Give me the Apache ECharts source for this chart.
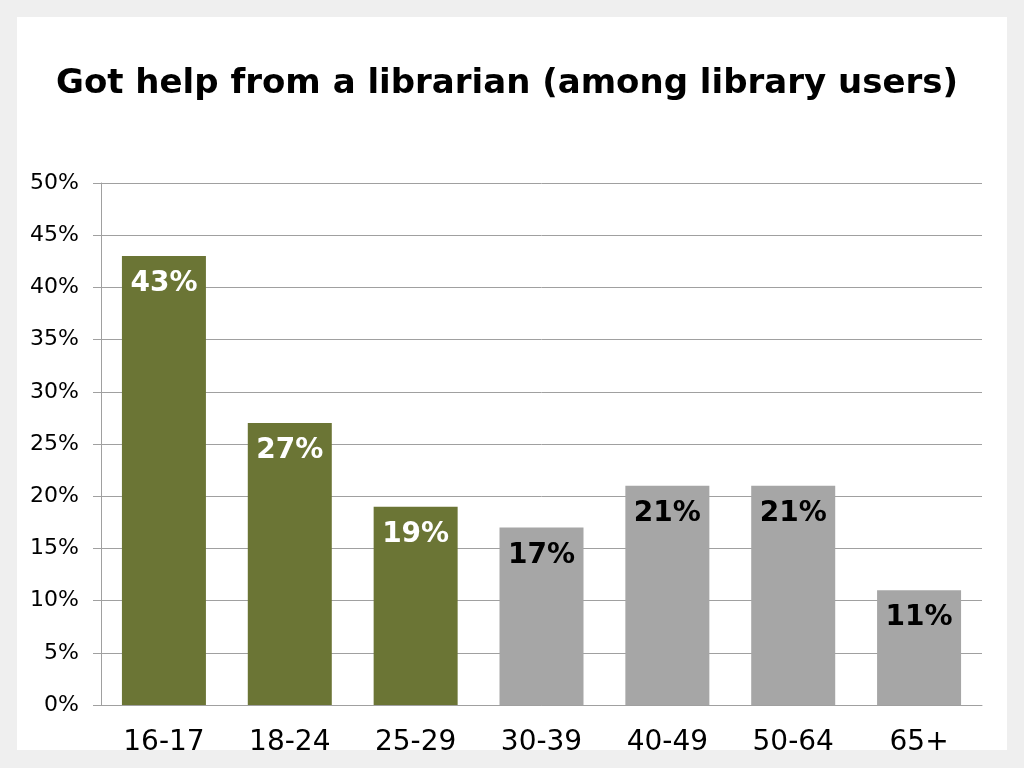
<!DOCTYPE html>
<html><head><meta charset="utf-8">
<script src="https://cdn.jsdelivr.net/npm/echarts@6/dist/echarts.min.js"></script>
<style>html,body{margin:0;padding:0;background:#efefef;}#c{width:1024px;height:768px;}</style>
</head><body><div id="c"></div>
<script>
const categories = ['16-17','18-24','25-29','30-39','40-49','50-64','65+'];
const values = [43, 27, 19, 17, 21, 21, 11];
const highlighted = [true, true, true, false, false, false, false];
const yTicks = [0, 5, 10, 15, 20, 25, 30, 35, 40, 45, 50];
const title = 'Got help from a librarian (among library users)';

const GREEN = '#6b7535', GRAY = '#a6a6a6';
const chart = echarts.init(document.getElementById('c'));
chart.setOption({
  backgroundColor: '#efefef',
  animation: false,
  graphic: [{type:'rect', z:-10, shape:{x:17,y:17,width:990,height:733}, style:{fill:'#ffffff'}}],
  title: {text: title, left: 51, top: 62,
    textStyle:{fontFamily:'DejaVu Sans', fontWeight:'bold', fontSize:34, color:'#000'}},
  grid: {left:101, right:42, top:183, bottom:63},
  xAxis: {type:'category', data: categories,
    axisLine:{lineStyle:{color:'#a0a0a0'}},
    axisTick:{length:8, lineStyle:{color:'#a0a0a0'}},
    axisLabel:{fontFamily:'DejaVu Sans', fontSize:28, color:'#000', margin:24}},
  yAxis: {type:'value', min:0, max:50, interval:5,
    axisLine:{show:true, lineStyle:{color:'#a0a0a0'}},
    axisTick:{show:true, length:8, lineStyle:{color:'#a0a0a0'}},
    splitLine:{lineStyle:{color:'#a0a0a0'}},
    axisLabel:{fontFamily:'DejaVu Sans', fontSize:22, color:'#000', margin:22,
      formatter: v => yTicks.includes(v) ? v + '%' : ''}},
  series: [{type:'bar', barWidth:84,
    data: values.map((v,i)=>({value:v,
      itemStyle:{color: highlighted[i]?GREEN:GRAY},
      label:{color: highlighted[i]?'#fff':'#000'}})),
    label:{show:true, position:'insideTop', distance:14, formatter:'{c}%',
      fontFamily:'DejaVu Sans', fontWeight:'bold', fontSize:28}}]
});
</script></body></html>
